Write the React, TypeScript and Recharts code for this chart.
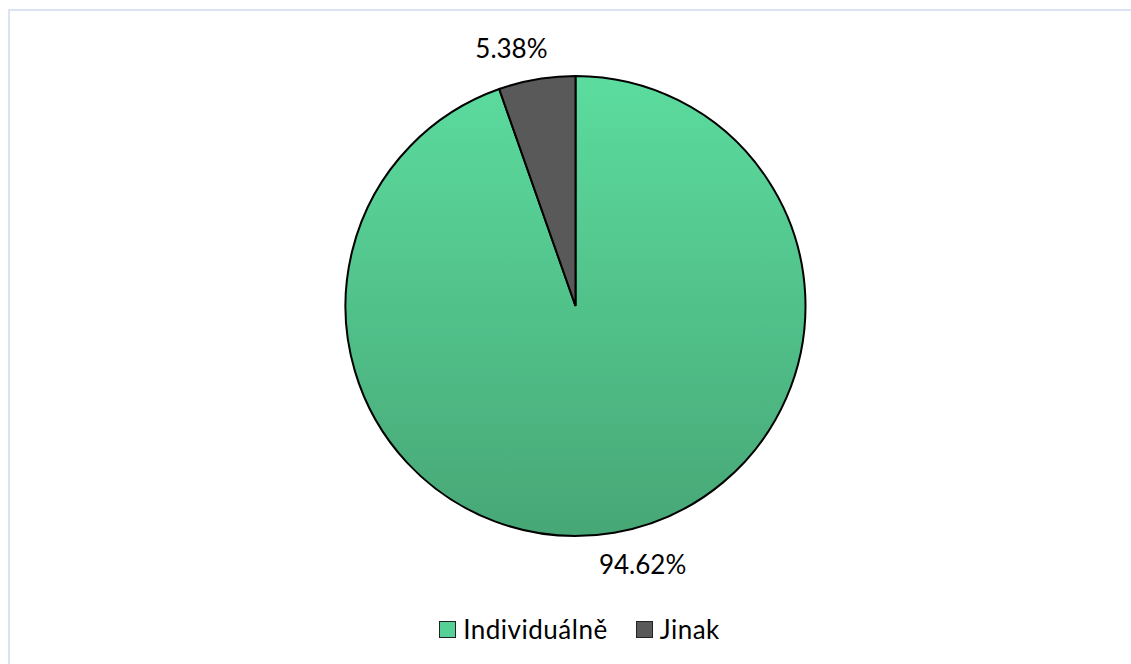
import { Cell, Legend, Pie, PieChart } from "recharts";

const categories = ["Individuálně", "Jinak"];
const shares = [94.62, 5.38];
const colors = ["url(#greenFill)", "#595959"];
const legendColors = ["#55d096", "#595959"];

const data = categories.map((name, i) => ({ name, value: shares[i] }));

const RAD = Math.PI / 180;

function renderLabel(props: any) {
  const { cx, cy, midAngle, outerRadius, value } = props;
  const r = outerRadius + 32;
  const cos = Math.cos(-midAngle * RAD);
  const x = cx + r * cos + (cos >= 0 ? 23 : -20);
  const y = cy + r * Math.sin(-midAngle * RAD);
  return (
    <text x={x} y={y} textAnchor="middle" dominantBaseline="central" fill="#000" fontSize={26} fontFamily="Lato, sans-serif">
      {`${value.toFixed(2)}%`}
    </text>
  );
}

function LegendContent() {
  return (
    <div style={{ display: "flex", justifyContent: "center", gap: 28, paddingLeft: 28, fontFamily: "Lato, sans-serif", fontSize: 26, letterSpacing: 0.5, color: "#000", lineHeight: "30px" }}>
      {categories.map((name, i) => (
        <div key={name} style={{ display: "flex", alignItems: "center", gap: 7 }}>
          <span style={{ width: 15, height: 15, background: legendColors[i], border: "1px solid #222", display: "inline-block" }} />
          <span>{name}</span>
        </div>
      ))}
    </div>
  );
}

export default function App() {
  return (
    <div style={{ position: "absolute", left: 0, top: 0, width: 1131, height: 664, background: "#fff", overflow: "hidden" }}>
      <div style={{ position: "absolute", left: 8, top: 9, width: 1200, height: 700, borderTop: "2px solid #dae3f3", borderLeft: "2px solid #dae3f3" }} />
      <div style={{ position: "absolute", left: 0, top: 0 }}>
        <PieChart width={1131} height={664} margin={{ top: 0, right: 0, bottom: 0, left: 0 }}>
          <defs>
            <linearGradient id="greenFill" gradientUnits="userSpaceOnUse" x1="0" y1="76" x2="0" y2="536">
              <stop offset="0%" stopColor="#5cdc9f" />
              <stop offset="100%" stopColor="#47a776" />
            </linearGradient>
          </defs>
          <Pie
            data={data}
            dataKey="value"
            nameKey="name"
            cx={575.5}
            cy={306}
            outerRadius={230}
            startAngle={90}
            endAngle={-270}
            stroke="#000"
            strokeWidth={2}
            label={renderLabel}
            labelLine={false}
            isAnimationActive={false}
          >
            {data.map((d, i) => (
              <Cell key={d.name} fill={colors[i]} />
            ))}
          </Pie>
          <Legend content={<LegendContent />} wrapperStyle={{ position: "absolute", top: 614, left: 0, width: 1131 }} />
        </PieChart>
      </div>
    </div>
  );
}
